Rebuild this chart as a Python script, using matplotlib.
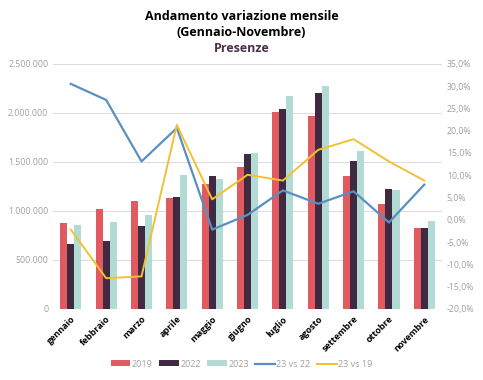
import numpy as np
import matplotlib
matplotlib.use("Agg")
import matplotlib.pyplot as plt
from matplotlib.ticker import FuncFormatter

mesi = ["gennaio", "febbraio", "marzo", "aprile", "maggio", "giugno",
        "luglio", "agosto", "settembre", "ottobre", "novembre"]

pres_2019 = [881000, 1017000, 1102000, 1129000, 1272000, 1446000,
             2007000, 1969000, 1361000, 1071000, 827000]
pres_2022 = [660000, 697000, 850000, 1139000, 1361000, 1578000,
             2041000, 2201000, 1510000, 1221000, 830000]
pres_2023 = [860000, 884000, 959000, 1367000, 1327000, 1592000,
             2177000, 2279000, 1609000, 1211000, 898000]

var_23_22 = [30.5, 26.9, 13.1, 20.6, -2.2, 1.1, 6.6, 3.6, 6.4, -0.6, 7.9]
var_23_19 = [-2.2, -13.1, -12.7, 21.3, 4.6, 10.1, 8.8, 15.7, 18.1, 13.1, 8.8]

c2019 = "#e05a5f"
c2022 = "#3f2a42"
c2023 = "#b3dbd5"
cblue = "#5b8fc2"
cyellow = "#f0c232"
grey = "#a0a0a0"

plt.rcParams["font.family"] = ["Open Sans", "DejaVu Sans"]

fig = plt.figure(figsize=(4.83, 3.8), dpi=100)
ax = fig.add_axes([0.11, 0.187, 0.805, 0.645])
ax2 = ax.twinx()

x = np.arange(len(mesi))
w = 0.2
ax.bar(x - w, pres_2019, w, color=c2019, label="2019", zorder=2)
ax.bar(x, pres_2022, w, color=c2022, label="2022", zorder=2)
ax.bar(x + w, pres_2023, w, color=c2023, label="2023", zorder=2)

ax2.plot(x, var_23_22, color=cblue, lw=1.6, label="23 vs 22")
ax2.plot(x, var_23_19, color=cyellow, lw=1.4, label="23 vs 19")

ax.set_ylim(0, 2500000)
ax.set_yticks(np.arange(0, 2500001, 500000))
ax.yaxis.set_major_formatter(FuncFormatter(lambda v, p: f"{int(v):,}".replace(",", ".")))
ax2.set_ylim(-20, 35)
ax2.set_yticks(np.arange(-20, 36, 5))
ax2.yaxis.set_major_formatter(FuncFormatter(lambda v, p: f"{v:.1f}%".replace(".", ",")))
ax.set_xlim(-0.5, len(mesi) - 0.5)

ax.grid(axis="y", color="#dddddd", lw=0.8, zorder=0)
ax.set_axisbelow(True)
for a in (ax, ax2):
    for s in a.spines.values():
        s.set_visible(False)
    a.tick_params(length=0, labelsize=6.3, labelcolor=grey)

ax.set_xticks(x)
ax.set_xticklabels(mesi, rotation=45, ha="right", rotation_mode="anchor",
                   fontsize=6.5, fontweight="bold", color="black")
ax.tick_params(axis="x", pad=4)

fig.text(0.5, 0.948, "Andamento variazione mensile", ha="center",
         fontsize=9, fontweight="bold")
fig.text(0.5, 0.905, "(Gennaio-Novembre)", ha="center",
         fontsize=9, fontweight="bold")
fig.text(0.5, 0.863, "Presenze", ha="center",
         fontsize=9, fontweight="bold", color="#4a3048")

h1, l1 = ax.get_legend_handles_labels()
h2, l2 = ax2.get_legend_handles_labels()
leg = fig.legend(h1 + h2, l1 + l2, loc="center", bbox_to_anchor=(0.5, 0.042),
                 ncol=5, frameon=False, fontsize=6.5, handlelength=2.2,
                 handleheight=0.6, columnspacing=0.7, handletextpad=0.15)
for t in leg.get_texts():
    t.set_color(grey)

fig.savefig("out.png", dpi=100)
